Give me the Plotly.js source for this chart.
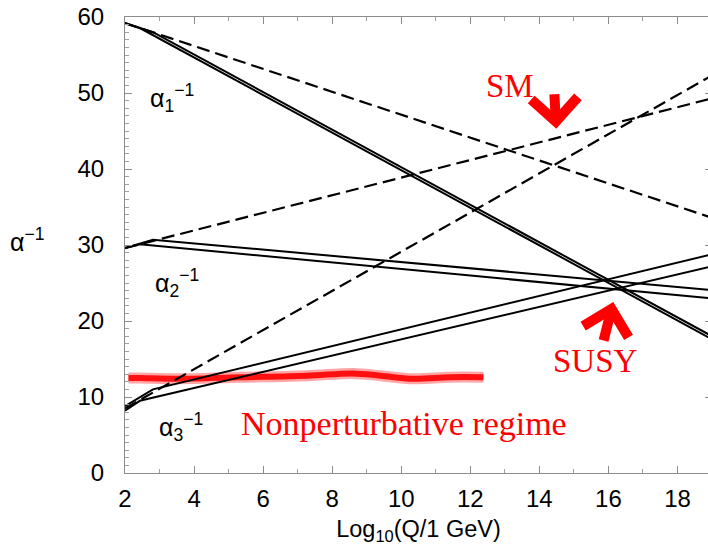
<!DOCTYPE html>
<html>
<head>
<meta charset="utf-8">
<script src="https://cdn.plot.ly/plotly-3.0.1.min.js"></script>
<style>
html,body{margin:0;padding:0;overflow:hidden;background:#fff;}
#chart{width:712px;height:545px;}
</style>
</head>
<body>
<div id="chart"></div>
<script>
// Log10(Q/1 GeV) positions and inverse couplings
const xSM = [2, 18.92];
const a1SM = [59.2, 33.7];
const a2SM = [29.6, 49.2];
const a3SM = [8.5, 52.1];

const xSusyA = [2, 2.81, 18.92];
const xSusyB = [2, 2.43, 18.92];
const a1SusyA = [59.2, 58.0, 18.2];
const a1SusyB = [59.2, 58.55, 17.8];
const a2SusyA = [29.6, 30.7, 24.1];
const a2SusyB = [29.6, 30.1, 23.0];
const a3SusyA = [8.8, 11.0, 28.7];
const a3SusyB = [8.2, 9.5, 27.1];

// hand-drawn red stroke marking the nonperturbative limit
const redX = [2.1, 2.43, 3.5, 5.33, 7.27, 8.6, 9.4, 10.35, 11.4, 12.38];
const redY = [12.5, 12.5, 12.4, 12.6, 12.8, 13.1, 12.8, 12.4, 12.6, 12.6];

const xTicks = [2, 4, 6, 8, 10, 12, 14, 16, 18];
const yTicks = [0, 10, 20, 30, 40, 50, 60];

const solid = {color: '#000', width: 2};
const dashed = {color: '#000', width: 2.2, dash: '13px,6px'};

const traces = [
  {x: redX, y: redY, mode: 'lines', line: {color: 'rgba(255,0,0,0.35)', width: 11, shape: 'spline'}},
  {x: redX, y: redY, mode: 'lines', line: {color: 'rgba(255,0,0,0.9)', width: 6, shape: 'spline'}},
  {x: xSM, y: a1SM, mode: 'lines', line: dashed},
  {x: xSM, y: a2SM, mode: 'lines', line: dashed},
  {x: xSM, y: a3SM, mode: 'lines', line: dashed},
  {x: xSusyA, y: a1SusyA, mode: 'lines', line: solid},
  {x: xSusyB, y: a1SusyB, mode: 'lines', line: solid},
  {x: xSusyA, y: a2SusyA, mode: 'lines', line: solid},
  {x: xSusyB, y: a2SusyB, mode: 'lines', line: solid},
  {x: xSusyA, y: a3SusyA, mode: 'lines', line: solid},
  {x: xSusyB, y: a3SusyB, mode: 'lines', line: solid}
].map(t => Object.assign({hoverinfo: 'skip', showlegend: false, type: 'scatter'}, t));

const sans = 'Liberation Sans, Arial, Helvetica, sans-serif';
const serif = 'Liberation Serif, Times New Roman, serif';
const red = '#ff0000';

const axisCommon = {
  showline: true, linecolor: '#8c8c8c', linewidth: 1, mirror: 'ticks',
  ticks: 'inside', ticklen: 7, tickcolor: '#8c8c8c', tickwidth: 1,
  showgrid: false, zeroline: false,
  tickfont: {family: sans, size: 24, color: '#000'},
  minor: {dtick: 1, ticks: 'inside', ticklen: 4, tickcolor: '#a0a0a0', showgrid: false}
};

const annotations = [
  {x: 2.67, y: 49.3, text: 'α<sub>1</sub><sup>−1</sup>', xanchor: 'left', yanchor: 'middle', showarrow: false,
   font: {family: sans, size: 25, color: '#000'}},
  {x: 2.81, y: 25.0, text: 'α<sub>2</sub><sup>−1</sup>', xanchor: 'left', yanchor: 'middle', showarrow: false,
   font: {family: sans, size: 25, color: '#000'}},
  {x: 2.93, y: 6.0, text: 'α<sub>3</sub><sup>−1</sup>', xanchor: 'left', yanchor: 'middle', showarrow: false,
   font: {family: sans, size: 25, color: '#000'}},
  {xref: 'paper', yref: 'paper', x: -0.199, y: 0.511, text: 'α<sup>−1</sup>', xanchor: 'left', yanchor: 'middle',
   showarrow: false, font: {family: sans, size: 25, color: '#000'}},
  {x: 13.16, y: 50.9, text: 'SM', showarrow: false, font: {family: serif, size: 33, color: red}},
  {x: 15.61, y: 14.7, text: 'SUSY', showarrow: false, font: {family: serif, size: 33, color: red}},
  {x: 10.09, y: 6.5, text: 'Nonperturbative regime', showarrow: false, font: {family: serif, size: 34, color: red}},
  {x: 14.49, y: 45.3, text: '', showarrow: true, ax: -2, ay: -36, arrowhead: 4, arrowsize: 0.9,
   arrowwidth: 10, arrowcolor: red, standoff: 0},
  {x: 16.14, y: 22.5, text: '', showarrow: true, ax: -10, ay: 40, arrowhead: 4, arrowsize: 0.9,
   arrowwidth: 10, arrowcolor: red, standoff: 0}
];

const layout = {
  width: 712, height: 545,
  margin: {l: 125, r: 0, t: 17, b: 72, pad: 0},
  paper_bgcolor: '#fff', plot_bgcolor: '#fff',
  showlegend: false,
  xaxis: Object.assign({}, axisCommon, {
    range: [2, 19], tickvals: xTicks, ticktext: xTicks.map(String), ticklabelstandoff: 4,
    title: {text: 'Log<sub>10</sub>(Q/1 GeV)', font: {family: sans, size: 23.5, color: '#000'}, standoff: 12}
  }),
  yaxis: Object.assign({}, axisCommon, {
    range: [0, 60], tickvals: yTicks, ticktext: yTicks.map(String), ticklabelstandoff: 15
  }),
  annotations: annotations
};

Plotly.newPlot('chart', traces, layout, {staticPlot: true, displayModeBar: false});
</script>
</body>
</html>
